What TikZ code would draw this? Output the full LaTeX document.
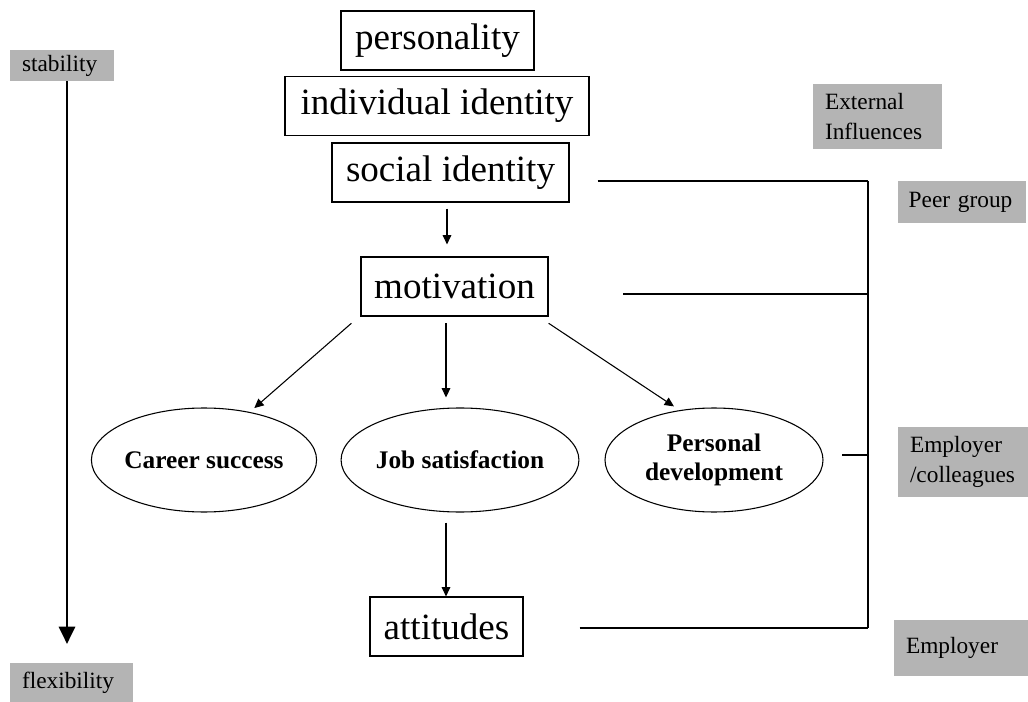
\documentclass[tikz,border=0pt]{standalone}
\usepackage{fontspec}
\setmainfont{Liberation Serif}
\usetikzlibrary{arrows.meta,shapes.geometric,positioning,calc}
\definecolor{boxgray}{RGB}{180,180,180}
\begin{document}
\begin{tikzpicture}[x=0.75pt,y=-0.75pt,>={Triangle[length=7pt,width=6.5pt]}]
  \tikzstyle{big box}=[draw,line width=0.9pt,inner sep=0pt,minimum height=44.25pt,font=\fontsize{27.8}{30}\selectfont]
  \tikzstyle{oval}=[ellipse,draw,line width=0.8pt,inner sep=0pt,minimum width=163.5pt,minimum height=78pt,align=center,font=\fontsize{19}{22}\selectfont\bfseries]
  \tikzstyle{gray box}=[fill=boxgray,inner xsep=9pt,inner ysep=0pt,align=left,font=\fontsize{17.5}{20}\selectfont]
  \tikzstyle{arr}=[->,line width=0.8pt]
  \tikzstyle{link}=[line width=0.8pt]
  \useasboundingbox (0,0) rectangle (1028,702);

  % stack of boxes
  \node[big box,minimum width=144.75pt] (person) at (437.5,40.5) {personality};
  \node[big box,minimum width=228pt] (indiv) at (437,106) {individual identity};
  \node[big box,minimum width=177.75pt] (social) at (450.5,172.5) {social identity};
  \node[big box,minimum width=140.25pt] (motiv) at (454.5,286.5) {motivation};
  \node[big box,minimum width=114.75pt] (att) at (446.5,626.5) {attitudes};

  % outcomes
  \node[oval] (career) at (204,460) {Career success};
  \node[oval] (job) at (460,460) {Job satisfaction};
  \node[oval] (pdev) at (714,460) {Personal\\development};

  % labels in gray
  \node[gray box,text width=60pt,minimum height=23.25pt] (stab) at (62,65.5) {stability};
  \node[gray box,text width=74.25pt,minimum height=29.25pt] (flex) at (71.5,682.5) {flexibility};
  \node[gray box,text width=78.75pt,minimum height=48.75pt,font=\fontsize{17.5}{22}\selectfont] (ext) at (877.5,116.5) {External\\Influences};
  \node[gray box,inner xsep=8pt,text width=80pt,minimum height=31.5pt] (peer) at (962,202) {Peer group};
  \node[gray box,text width=79.5pt,minimum height=52.5pt,font=\fontsize{17.5}{22}\selectfont] (empcol) at (963,462) {Employer\\/colleagues};
  \node[gray box,text width=82.5pt,minimum height=42pt] (emp) at (961,648) {Employer};

  % arrows
  \draw[->,line width=2.2pt,>={Triangle[length=13pt,width=12pt]}] (stab.south -| 67,0) -- ([yshift=-0.75pt]67,643);
  \draw[arr,shorten <=4.5pt,shorten >=9pt] (social.south -| 447,0) -- (motiv.north -| 447,0);
  \draw[arr] ([xshift=-6.75pt,yshift=-5pt]motiv.south west) -- ([shift={(3pt,3pt)}]career.46);
  \draw[arr,shorten <=5pt,shorten >=7.5pt] (motiv.south -| 446,0) -- (job.north -| 446,0);
  \draw[arr] ([yshift=-5pt]motiv.south east) -- ([shift={(-3pt,3pt)}]pdev.126);
  \draw[arr,shorten <=7.5pt] (job.south -| 446,0) -- (att.north -| 446,0);

  % external influences bus
  \coordinate (bus top) at (868,181);
  \coordinate (bus mid) at (868,294);
  \coordinate (bus pd) at (868,455);
  \coordinate (bus bot) at (868,628);
  \draw[line width=1.6pt] (bus top) -- (bus bot);
  \draw[link] ([xshift=21pt]social.east |- bus top) -- (bus top);
  \draw[link] ([xshift=56pt]motiv.east |- bus mid) -- (bus mid);
  \draw[link] ([xshift=14pt]pdev.east |- bus pd) -- (bus pd);
  \draw[link] ([xshift=42pt]att.east |- bus bot) -- (bus bot);
\end{tikzpicture}
\end{document}
